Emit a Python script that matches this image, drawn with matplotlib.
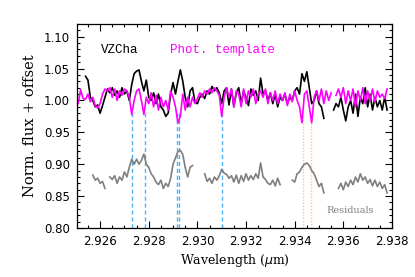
import numpy as np
import matplotlib
matplotlib.use('Agg')
import matplotlib.pyplot as plt
from matplotlib.ticker import MultipleLocator, FormatStrFormatter

nan = np.nan

# wavelength grid (micron), shared by all series
wave = [2.9251, 2.9252, 2.9253, 2.9254, 2.9255, 2.9256, 2.9257, 2.9258, 2.9259, 2.9260,
        2.9261, 2.9262, 2.9263, 2.9264, 2.9265, 2.9266, 2.9267, 2.9268, 2.9269, 2.9270,
        2.9271, 2.9272, 2.9273, 2.9274, 2.9275, 2.9276, 2.9277, 2.9278, 2.9279, 2.9280,
        2.9281, 2.9282, 2.9283, 2.9284, 2.9285, 2.9286, 2.9287, 2.9288, 2.9289, 2.9290,
        2.9291, 2.9292, 2.9293, 2.9294, 2.9295, 2.9296, 2.9297, 2.9298, 2.9299, 2.9300,
        2.9301, 2.9302, 2.9303, 2.9304, 2.9305, 2.9306, 2.9307, 2.9308, 2.9309, 2.9310,
        2.9311, 2.9312, 2.9313, 2.9314, 2.9315, 2.9316, 2.9317, 2.9318, 2.9319, 2.9320,
        2.9321, 2.9322, 2.9323, 2.9324, 2.9325, 2.9326, 2.9327, 2.9328, 2.9329, 2.9330,
        2.9331, 2.9332, 2.9333, 2.9334, 2.9335, 2.9336, 2.9337, 2.9338, 2.9339, 2.9340,
        2.9341, 2.9342, 2.9343, 2.9344, 2.9345, 2.9346, 2.9347, 2.9348, 2.9349, 2.9350,
        2.9351, 2.9352, 2.9353, 2.9354, 2.9355, 2.9356, 2.9357, 2.9358, 2.9359, 2.9360,
        2.9361, 2.9362, 2.9363, 2.9364, 2.9365, 2.9366, 2.9367, 2.9368, 2.9369, 2.9370,
        2.9371, 2.9372, 2.9373, 2.9374, 2.9375, 2.9376, 2.9377, 2.9378]

# observed VZCha spectrum (normalised)
obs = [nan, nan, nan, 1.038, 1.032, 1.005, 1.000, 0.990, 0.993, 0.980,
       0.992, 1.005, 1.018, 1.012, 1.020, 1.008, 1.015, 1.005, 1.020, 1.010,
       1.015, 1.000, 1.025, 1.042, 1.046, 1.048, 1.030, 1.015, 1.032, 1.005,
       1.000, 1.012, 0.995, 1.010, 0.990, 0.985, 0.975, 0.980, 1.010, 1.028,
       1.010, 1.030, 1.048, 1.030, 1.005, 0.990, 1.015, 1.020, 0.998, 0.995,
       1.005, 1.010, 1.003, 1.015, 1.010, 1.022, 1.015, 1.020, 1.012, 0.995,
       1.015, 1.020, 0.993, 1.018, 0.990, 1.012, 1.020, 0.995, 1.015, 1.005,
       0.992, 1.018, 1.008, 1.015, 1.000, 1.035, 1.010, 1.015, 1.000, 1.012,
       0.995, 1.010, 0.990, 1.005, 1.000, 1.010, 0.995, 1.005, 1.000, 1.015,
       1.020, 1.010, 1.042, 1.030, 1.045, 1.020, 0.995, 1.000, 1.015, 0.995,
       0.990, 0.972, nan, nan, nan, 0.985, 0.995, 0.990, 1.005, 0.985,
       0.968, 0.990, 1.000, 0.980, 1.010, 0.975, 1.005, 0.995, 1.020, 0.990,
       1.010, 0.985, 1.005, 0.990, 1.000, 0.985, 1.005, 0.985]

# photospheric template
tmpl = [0.995, 1.017, 1.003, 1.002, 1.010, 0.998, 1.005, 0.992, 0.988, 0.995,
        1.010, 1.018, 1.015, 1.020, 1.005, 1.018, 1.000, 1.015, 1.008, 1.018,
        1.015, 1.005, 0.978, 1.000, 1.015, 1.018, 1.000, 0.978, 1.005, 0.995,
        1.012, 0.990, 1.008, 0.985, 1.005, 0.990, 1.000, 0.985, 1.015, 1.005,
        0.990, 0.965, 0.975, 1.010, 0.985, 1.005, 0.990, 1.005, 0.995, 1.003,
        1.012, 1.005, 1.015, 1.010, 1.018, 1.012, 1.020, 1.015, 1.008, 0.975,
        1.005, 1.020, 1.005, 1.018, 0.990, 1.015, 1.010, 0.990, 1.018, 0.995,
        1.015, 1.005, 1.018, 0.995, 1.010, 1.015, 1.005, 1.018, 0.995, 1.012,
        1.000, 1.015, 0.995, 1.010, 1.000, 1.012, 0.992, 1.010, 0.998, 1.015,
        1.000, 0.990, 0.965, 1.010, 1.015, 0.990, 0.965, 1.005, 1.015, 1.000,
        1.018, 0.995, 1.015, 1.000, 1.012, nan, 1.008, 1.018, 1.005, 1.020,
        0.995, 1.015, 1.000, 1.018, 0.990, 1.015, 1.000, 1.020, 0.995, 1.015,
        1.000, 1.018, 0.998, 1.015, 1.005, 1.010, 1.003, 1.018]

# residuals (offset)
resid = [nan, nan, nan, nan, nan, nan, 0.883, 0.875, 0.878, 0.870,
         0.873, 0.862, nan, 0.880, 0.876, 0.882, 0.870, 0.880, 0.875, 0.888,
         0.880, 0.895, 0.908, 0.900, 0.908, 0.900, 0.906, 0.916, 0.900, 0.895,
         0.885, 0.880, 0.872, 0.868, 0.875, 0.862, 0.870, 0.865, 0.878, 0.900,
         0.910, 0.920, 0.922, 0.915, 0.895, 0.880, 0.895, 0.898, nan, nan,
         nan, nan, 0.885, 0.873, 0.878, 0.870, 0.880, 0.875, 0.882, 0.892,
         0.886, 0.884, 0.878, 0.882, 0.872, 0.883, 0.870, 0.882, 0.873, 0.885,
         0.875, 0.882, 0.876, 0.885, 0.878, 0.902, 0.880, 0.876, 0.870, 0.868,
         0.875, 0.866, 0.878, 0.868, nan, nan, nan, nan, 0.875, 0.872,
         0.885, 0.888, 0.895, 0.900, 0.902, 0.898, 0.890, 0.885, 0.875, 0.865,
         0.870, 0.855, nan, nan, nan, nan, nan, 0.862, 0.870, 0.860,
         0.872, 0.865, 0.875, 0.868, 0.880, 0.872, 0.885, 0.875, 0.880, 0.870,
         0.876, 0.866, 0.875, 0.865, 0.872, 0.862, 0.868, 0.855]

# marked lines
blue_lines = [2.92731, 2.92783, 2.92918, 2.92923, 2.93100]
orange_lines = [2.93433, 2.93466]

fig = plt.figure(figsize=(4.15, 2.77), dpi=100)
ax = fig.add_axes([0.1855, 0.177, 0.759, 0.7365])

ax.vlines(blue_lines, 0.80, 0.98, colors='#4db3f5', linestyles=(0, (3, 2)), linewidth=1.0)
ax.vlines(orange_lines, 0.80, 0.975, colors='#ffc58a', linestyles=(0, (1, 1.2)), linewidth=1.0)

ax.plot(wave, resid, color='#7f7f7f', linewidth=1.2)
ax.plot(wave, obs, color='black', linewidth=1.2)
ax.plot(wave, tmpl, color='#ff00ff', linewidth=1.2)

ax.text(2.92604, 1.079, 'VZCha', color='black', family='Liberation Mono', fontsize=9, va='center')
ax.text(2.92886, 1.079, 'Phot. template', color='#ff00ff', family='Liberation Mono', fontsize=9, va='center')
ax.text(2.93530, 0.8275, 'Residuals', color='#7f7f7f', family='DejaVu Serif', fontsize=7, va='center')

ax.set_xlim(2.92505, 2.9380)
ax.set_ylim(0.80, 1.12)
ax.xaxis.set_major_locator(MultipleLocator(0.002))
ax.xaxis.set_minor_locator(MultipleLocator(0.0005))
ax.yaxis.set_major_locator(MultipleLocator(0.05))
ax.yaxis.set_minor_locator(MultipleLocator(0.01))
ax.xaxis.set_major_formatter(FormatStrFormatter('%.3f'))
ax.yaxis.set_major_formatter(FormatStrFormatter('%.2f'))
ax.tick_params(which='both', direction='in', top=True, right=True, width=0.8)
ax.tick_params(which='major', length=5, labelsize=8.5, pad=5)
ax.tick_params(which='minor', length=2.5)
for s in ax.spines.values():
    s.set_linewidth(0.9)

ax.set_xlabel(r'Wavelength ($\mu$m)', family='DejaVu Serif', fontsize=9, labelpad=3)
ax.set_ylabel('Norm. flux + offset', family='DejaVu Serif', fontsize=10.5, labelpad=5)

fig.savefig('out.png', dpi=100)
